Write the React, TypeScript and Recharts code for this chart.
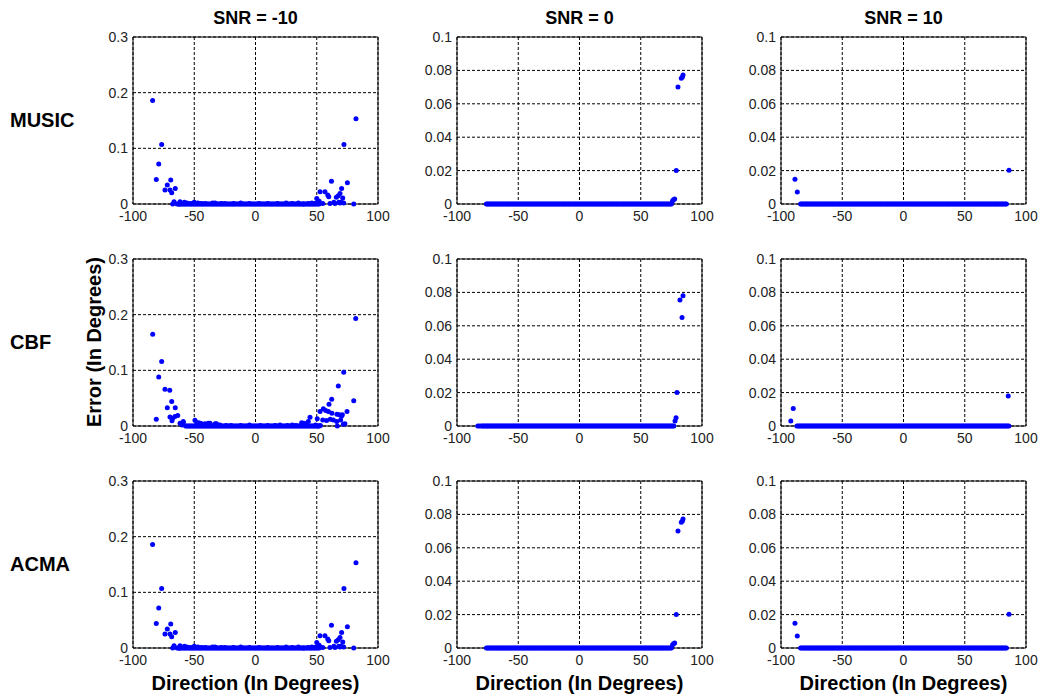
import { ScatterChart, Scatter, XAxis, YAxis, CartesianGrid, ReferenceLine } from 'recharts'

const METHODS = ['MUSIC', 'CBF', 'ACMA']
const SNRS = ['SNR = -10', 'SNR = 0', 'SNR = 10']
const X_TICKS = [-100, -50, 0, 50, 100]
const Y_TICKS_LOW = [0, 0.1, 0.2, 0.3]
const Y_TICKS_HIGH = [0, 0.02, 0.04, 0.06, 0.08, 0.1]

// scanned directions of arrival (degrees)
const DIRECTIONS = [
  -90, -89, -88, -87, -86, -85, -84, -83, -82, -81,
  -80, -79, -78, -77, -76, -75, -74, -73, -72, -71,
  -70, -69, -68, -67, -66, -65, -64, -63, -62, -61,
  -60, -59, -58, -57, -56, -55, -54, -53, -52, -51,
  -50, -49, -48, -47, -46, -45, -44, -43, -42, -41,
  -40, -39, -38, -37, -36, -35, -34, -33, -32, -31,
  -30, -29, -28, -27, -26, -25, -24, -23, -22, -21,
  -20, -19, -18, -17, -16, -15, -14, -13, -12, -11,
  -10, -9, -8, -7, -6, -5, -4, -3, -2, -1,
  0, 1, 2, 3, 4, 5, 6, 7, 8, 9,
  10, 11, 12, 13, 14, 15, 16, 17, 18, 19,
  20, 21, 22, 23, 24, 25, 26, 27, 28, 29,
  30, 31, 32, 33, 34, 35, 36, 37, 38, 39,
  40, 41, 42, 43, 44, 45, 46, 47, 48, 49,
  50, 51, 52, 53, 54, 55, 56, 57, 58, 59,
  60, 61, 62, 63, 64, 65, 66, 67, 68, 69,
  70, 71, 72, 73, 74, 75, 76, 77, 78, 79,
  80, 81, 82, 83, 84, 85, 86, 87, 88, 89, 90,
]

// direction span where the error is zero, for SNR -10 / 0 / 10
const MUSIC_ZERO = [[-64, 52], [-76, 75], [-84, 84]]
const CBF_ZERO = [[-57, 52], [-80, 77], [-87, 86]]
const ACMA_ZERO = [[-64, 52], [-76, 75], [-84, 84]]

// the other estimates: [direction, error]
const MUSIC_M10 = [
  [-84, 0.186], [-76.6, 0.107], [-79, 0.072], [-81, 0.044], [-69.2, 0.043], [-72, 0.034],
  [-73.9, 0.025], [-69.8, 0.025], [-65.5, 0.028], [-68.4, 0.02], [-66.5, 0.004], [-67.6, 0],
  [-61.6, 0.004], [-60.3, 0.0015], [-62.2, 0], [-58, 0.003], [-56, 0.002], [-53, 0.001],
  [-50, 0.003], [-47, 0.002], [-44, 0.001], [-41, 0.001], [-35, 0.002], [-33, 0.002],
  [-28, 0.001], [-25, 0.001], [-18, 0.001], [-12, 0.002], [-5, 0.001], [3, 0.001],
  [10, 0.001], [18, 0.001], [25, 0.002], [30, 0.001], [35, 0.002], [39, 0],
  [43.1, 0.001], [46, 0.002], [48, 0.001], [50, 0.01], [50.8, 0.004], [52, 0.005],
  [54.9, 0.001], [60.8, 0.001], [64.9, 0.001], [69, 0.002], [52.7, 0.022], [56.7, 0.022],
  [59, 0.016], [59.8, 0.013], [62, 0.041], [66, 0.012], [67.6, 0.015], [69, 0.019],
  [70.3, 0.028], [71.2, 0.011], [72.2, 0.107], [75, 0.038], [80.2, 0], [82, 0.153],
  [64, 0.003], [68, 0.003], [70, 0.003], [72, 0.002],
]
const MUSIC_0 = [
  [76, 0.002], [76.8, 0.0025], [77.7, 0.003], [79, 0.02], [80.4, 0.07], [83.1, 0.0753],
  [84, 0.076], [84.5, 0.0772],
]
const MUSIC_10 = [[-88.6, 0.0148], [-86.7, 0.0072], [86.1, 0.0202]]

const CBF_M10 = [
  [-83.9, 0.165], [-76.6, 0.116], [-79, 0.088], [-73.9, 0.066], [-70, 0.064], [-68.4, 0.044],
  [-72, 0.033], [-65.5, 0.033], [-81, 0.012], [-69.8, 0.016], [-67.6, 0.014], [-68.2, 0.0096],
  [-65.7, 0.017], [-63.5, 0.019], [-61.6, 0.005], [-58.9, 0.006], [-59, 0.008], [-60, 0.002],
  [-49.4, 0.0105], [-48, 0.006], [-46.5, 0.006], [-45.3, 0.005], [-44, 0.004], [-41.2, 0.004],
  [-38.6, 0.005], [-37.1, 0.005], [-33, 0.004], [-31.8, 0.004], [-29, 0.002], [-24, 0.001],
  [-20, 0.001], [-12, 0.001], [-5, 0.002], [4, 0.001], [10, 0.001], [16, 0.001],
  [20, 0.002], [26, 0.001], [30, 0.002], [33, 0.001], [37.7, 0.006], [39.6, 0.005],
  [41, 0.002], [43.1, 0.008], [44.5, 0.0156], [49, 0.002], [50.4, 0.013], [51, 0],
  [53, 0.001], [54.9, 0.011], [52.7, 0.026], [55.4, 0.031], [57.3, 0.028], [59.5, 0.026],
  [60, 0.039], [62.2, 0.048], [62.4, 0.023], [63.5, 0.011], [66.3, 0.008], [66.5, 0.021],
  [66.8, 0], [67.6, 0.072], [68.4, 0.02], [69.5, 0.011], [70.3, 0.018], [70.9, 0.02],
  [71.7, 0.003], [72, 0.0965], [73, 0.004], [74.7, 0.026], [80.2, 0.0455], [81.8, 0.193],
  [58, 0.01], [61, 0.012],
]
const CBF_0 = [
  [-83, 0], [-81.5, 0], [78, 0.003], [78.8, 0.005], [79.6, 0.02], [82, 0.0755],
  [83.7, 0.065], [84.5, 0.078],
]
const CBF_10 = [[-92, 0.003], [-90, 0.0105], [85.5, 0.018]]

const ACMA_M10 = MUSIC_M10
const ACMA_0 = MUSIC_0
const ACMA_10 = MUSIC_10

const ZERO_SPANS = [MUSIC_ZERO, CBF_ZERO, ACMA_ZERO]
const EXTRAS = [
  [MUSIC_M10, MUSIC_0, MUSIC_10],
  [CBF_M10, CBF_0, CBF_10],
  [ACMA_M10, ACMA_0, ACMA_10],
]

function panelData(span: number[], extra: number[][]) {
  const zeros = DIRECTIONS.filter((d) => d >= span[0] && d <= span[1]).map((d) => ({ x: d, y: 0 }))
  return [...zeros, ...extra.map(([x, y]) => ({ x, y }))]
}

const PLOT_LEFT = [133, 457, 781]
const PLOT_TOP = [37, 259, 481]
const PLOT_W = 245
const PLOT_H = 167
const AXIS_W = 60
const FONT = 'Arial, "Liberation Sans", sans-serif'

const dot = (p: any) => <circle cx={p.cx} cy={p.cy} r={2.5} fill="#0000ff" />

function Panel({ data, yTicks, left, top }: { data: { x: number; y: number }[]; yTicks: number[]; left: number; top: number }) {
  const yMax = yTicks[yTicks.length - 1]
  return (
    <div style={{ position: 'absolute', left: left - AXIS_W, top: top - 20 }}>
      <ScatterChart width={AXIS_W + PLOT_W + 15} height={20 + PLOT_H + 35} margin={{ top: 20, right: 15, bottom: 0, left: 0 }}>
        <CartesianGrid stroke="#000" strokeDasharray="3 2" />
        <XAxis
          type="number"
          dataKey="x"
          domain={[-100, 100]}
          ticks={X_TICKS}
          interval={0}
          height={35}
          tickLine={false}
          tickSize={0}
          tickMargin={7}
          axisLine={{ stroke: '#000' }}
          tick={{ fill: '#222', fontSize: 14 }}
        />
        <YAxis
          type="number"
          dataKey="y"
          domain={[0, yMax]}
          ticks={yTicks}
          interval={0}
          width={AXIS_W}
          tickLine={false}
          tickSize={0}
          tickMargin={5}
          axisLine={{ stroke: '#000' }}
          tick={{ fill: '#222', fontSize: 14 }}
        />
        <ReferenceLine x={100} stroke="#000" />
        <ReferenceLine y={yMax} stroke="#000" />
        <Scatter data={data} shape={dot} isAnimationActive={false} />
      </ScatterChart>
    </div>
  )
}

export default function App() {
  return (
    <div style={{ position: 'absolute', left: 0, top: 0, width: 1041, height: 700, background: '#fff', overflow: 'hidden', fontFamily: FONT }}>
      <svg width={1041} height={700} style={{ position: 'absolute', left: 0, top: 0 }}>
        <g fontFamily={FONT} fontWeight="bold" fill="#000">
          {SNRS.map((s, i) => (
            <text key={s} x={PLOT_LEFT[i] + PLOT_W / 2} y={18} fontSize={18} textAnchor="middle" dominantBaseline="central">
              {s}
            </text>
          ))}
          {METHODS.map((m, i) => (
            <text key={m} x={10} y={PLOT_TOP[i] + 83} fontSize={20} dominantBaseline="central">
              {m}
            </text>
          ))}
          {PLOT_LEFT.map((l, i) => (
            <text key={i} x={l + PLOT_W / 2} y={683} fontSize={20} textAnchor="middle" dominantBaseline="central">
              Direction (In Degrees)
            </text>
          ))}
          <text transform="translate(94, 342) rotate(-90)" fontSize={20} textAnchor="middle" dominantBaseline="central">
            Error (In Degrees)
          </text>
        </g>
      </svg>
      {METHODS.map((m, r) =>
        SNRS.map((s, c) => (
          <Panel
            key={m + s}
            data={panelData(ZERO_SPANS[r][c], EXTRAS[r][c])}
            yTicks={c === 0 ? Y_TICKS_LOW : Y_TICKS_HIGH}
            left={PLOT_LEFT[c]}
            top={PLOT_TOP[r]}
          />
        ))
      )}
    </div>
  )
}
